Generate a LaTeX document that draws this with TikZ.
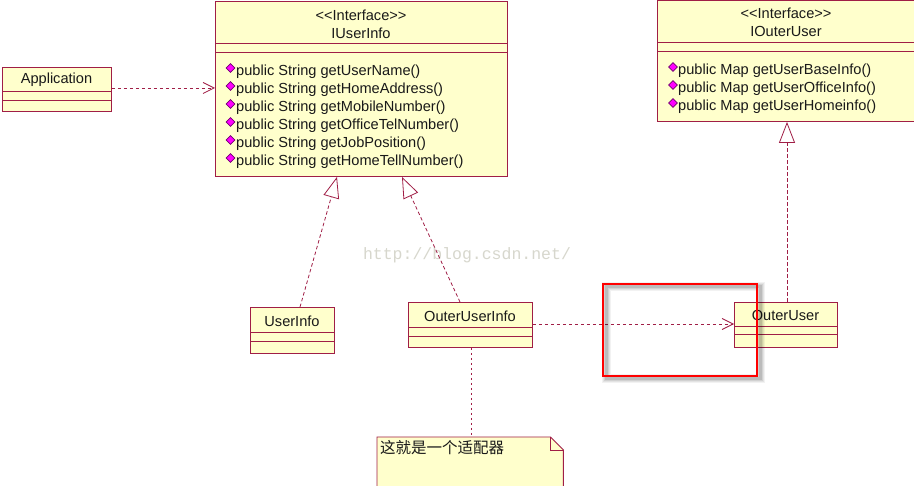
\documentclass[tikz,border=0pt]{standalone}
\usepackage{fontspec}
\setmainfont{Liberation Sans}
\newfontfamily\umlfont{Liberation Sans}
\newfontfamily\cjk{Noto Sans CJK SC}
\newfontfamily\wmfont{Liberation Mono}
\usetikzlibrary{arrows.meta,shapes.geometric}
\definecolor{umlline}{RGB}{160,30,70}
\definecolor{umlfill}{RGB}{255,255,204}
\definecolor{diamfill}{RGB}{255,0,255}
\definecolor{diamline}{RGB}{110,0,110}
\definecolor{wmgray}{RGB}{215,215,205}
\definecolor{hilite}{RGB}{255,0,0}
\tikzset{
  box/.style={draw=umlline, fill=umlfill, line width=0.9pt, inner sep=0pt, anchor=north west},
  lbl/.style={inner sep=0pt, font=\umlfont\fontsize{14.6}{16}\selectfont, text=black!90},
  meth/.style={lbl, anchor=west},
  dia/.style={diamond, fill=diamfill, draw=diamline, line width=0.6pt, inner sep=0pt, minimum size=9pt},
  divider/.style={draw=umlline, line width=0.9pt},
  dep/.style={draw=umlline, line width=0.8pt, dash pattern=on 3.5pt off 2.5pt, -{Straight Barb[length=11pt,width=11pt,line width=0.8pt]}},
  real/.style={draw=umlline, line width=0.8pt, dash pattern=on 3.5pt off 2.5pt, -{Triangle[open,length=21pt,width=16pt,fill=white,line width=0.8pt]}},
  notelink/.style={draw=umlline, line width=0.8pt, dash pattern=on 2.5pt off 2.5pt},
}
\begin{document}
\begin{tikzpicture}[x=1pt,y=-1pt]
\fill[white] (0,0) rectangle (914,486);
\useasboundingbox (0,0) rectangle (914,486);

% watermark
\node[inner sep=0pt, font=\wmfont\fontsize{16.5}{18}\selectfont, text=wmgray] (wm) at (467,255) {http://blog.csdn.net/};

% IUserInfo
\node[box, minimum width=292pt, minimum height=175pt] (iui) at (215,1) {};
\draw[divider] (iui.west |- 0,43) -- (iui.east |- 0,43);
\draw[divider] (iui.west |- 0,52) -- (iui.east |- 0,52);
\node[lbl] (iuis) at (361,15) {<\kern0pt<Interface>\kern0pt>};
\node[lbl] (iuin) at (361,33) {IUserInfo};
\foreach \y/\t [count=\i] in {72/getUserName(), 90/getHomeAddress(), 108/getMobileNumber(), 126/getOfficeTelNumber(), 144/getJobPosition(), 162/getHomeTellNumber()} {
  \node[dia] (iuid\i) at (230.5,\y-4) {};
  \node[meth] (iuim\i) at (236,\y) {public String \t};
}

% IOuterUser
\node[box, minimum width=262pt, minimum height=121pt] (iou) at (657,0) {};
\draw[divider] (iou.west |- 0,42) -- (iou.east |- 0,42);
\draw[divider] (iou.west |- 0,51) -- (iou.east |- 0,51);
\node[lbl] (ious) at (786,13) {<\kern0pt<Interface>\kern0pt>};
\node[lbl] (ioun) at (786,31) {IOuterUser};
\foreach \y/\t [count=\i] in {71/getUserBaseInfo(), 89/getUserOfficeInfo(), 107/getUserHomeinfo()} {
  \node[dia] (ioud\i) at (673,\y-4) {};
  \node[meth] (ioum\i) at (678,\y) {public Map \t};
}

% Application
\node[box, minimum width=109pt, minimum height=44pt] (app) at (2,67) {};
\draw[divider] (app.west |- 0,91) -- (app.east |- 0,91);
\draw[divider] (app.west |- 0,100) -- (app.east |- 0,100);
\node[lbl] (appn) at (56.5,80) {Application};

% UserInfo
\node[box, minimum width=84pt, minimum height=46pt] (ui) at (250,307) {};
\draw[divider] (ui.west |- 0,332) -- (ui.east |- 0,332);
\draw[divider] (ui.west |- 0,341) -- (ui.east |- 0,341);
\node[lbl] (uin) at (292,321) {UserInfo};

% OuterUserInfo
\node[box, minimum width=124pt, minimum height=45pt] (oui) at (408,302) {};
\draw[divider] (oui.west |- 0,327) -- (oui.east |- 0,327);
\draw[divider] (oui.west |- 0,336) -- (oui.east |- 0,336);
\node[lbl] (ouin) at (470,316) {OuterUserInfo};

% OuterUser
\node[box, minimum width=103pt, minimum height=45pt] (ou) at (734,302) {};
\draw[divider] (ou.west |- 0,326) -- (ou.east |- 0,326);
\draw[divider] (ou.west |- 0,334) -- (ou.east |- 0,334);
\node[lbl] (oun) at (785.5,315) {OuterUser};

% Note
\node[inner sep=0pt, minimum width=186pt, minimum height=55pt, anchor=north west] (note) at (377,437) {};
\draw[draw=umlline, fill=umlfill, line width=0.9pt]
  (note.north west) -- ([xshift=-13pt]note.north east) -- ([yshift=-13pt]note.north east)
  -- (note.south east) -- (note.south west) -- cycle;
\draw[draw=umlline, line width=0.9pt]
  ([xshift=-13pt]note.north east) -- ([xshift=-13pt,yshift=-13pt]note.north east) -- ([yshift=-13pt]note.north east);
\node[inner sep=0pt, anchor=west, font=\cjk\fontsize{15.5}{17}\selectfont, text=black!90] (notet) at (380,448) {这就是一个适配器};

% connectors
\draw[dep] (app.east |- 0,88) -- (iui.west |- 0,88);
\draw[dep] (oui.east |- 0,324) -- (ou.west |- 0,324);
\draw[real] (ui.north -| 300,0) -- (iui.south -| 337,0);
\draw[real] (oui.north -| 460,0) -- (iui.south -| 402,0);
\draw[real] (ou.north -| 787,0) -- (iou.south -| 787,0);
\draw[notelink] (oui.south -| 471,0) -- (note.north -| 471,0);

% red highlight with soft shadow
\foreach \w/\o in {9/0.05,7/0.06,5/0.08,3/0.10} {
  \draw[black, opacity=\o, line width=\w pt] (606,287) rectangle (760,379);
}
\draw[hilite, line width=2.6pt] (603,284) rectangle (757,376);
\end{tikzpicture}
\end{document}
